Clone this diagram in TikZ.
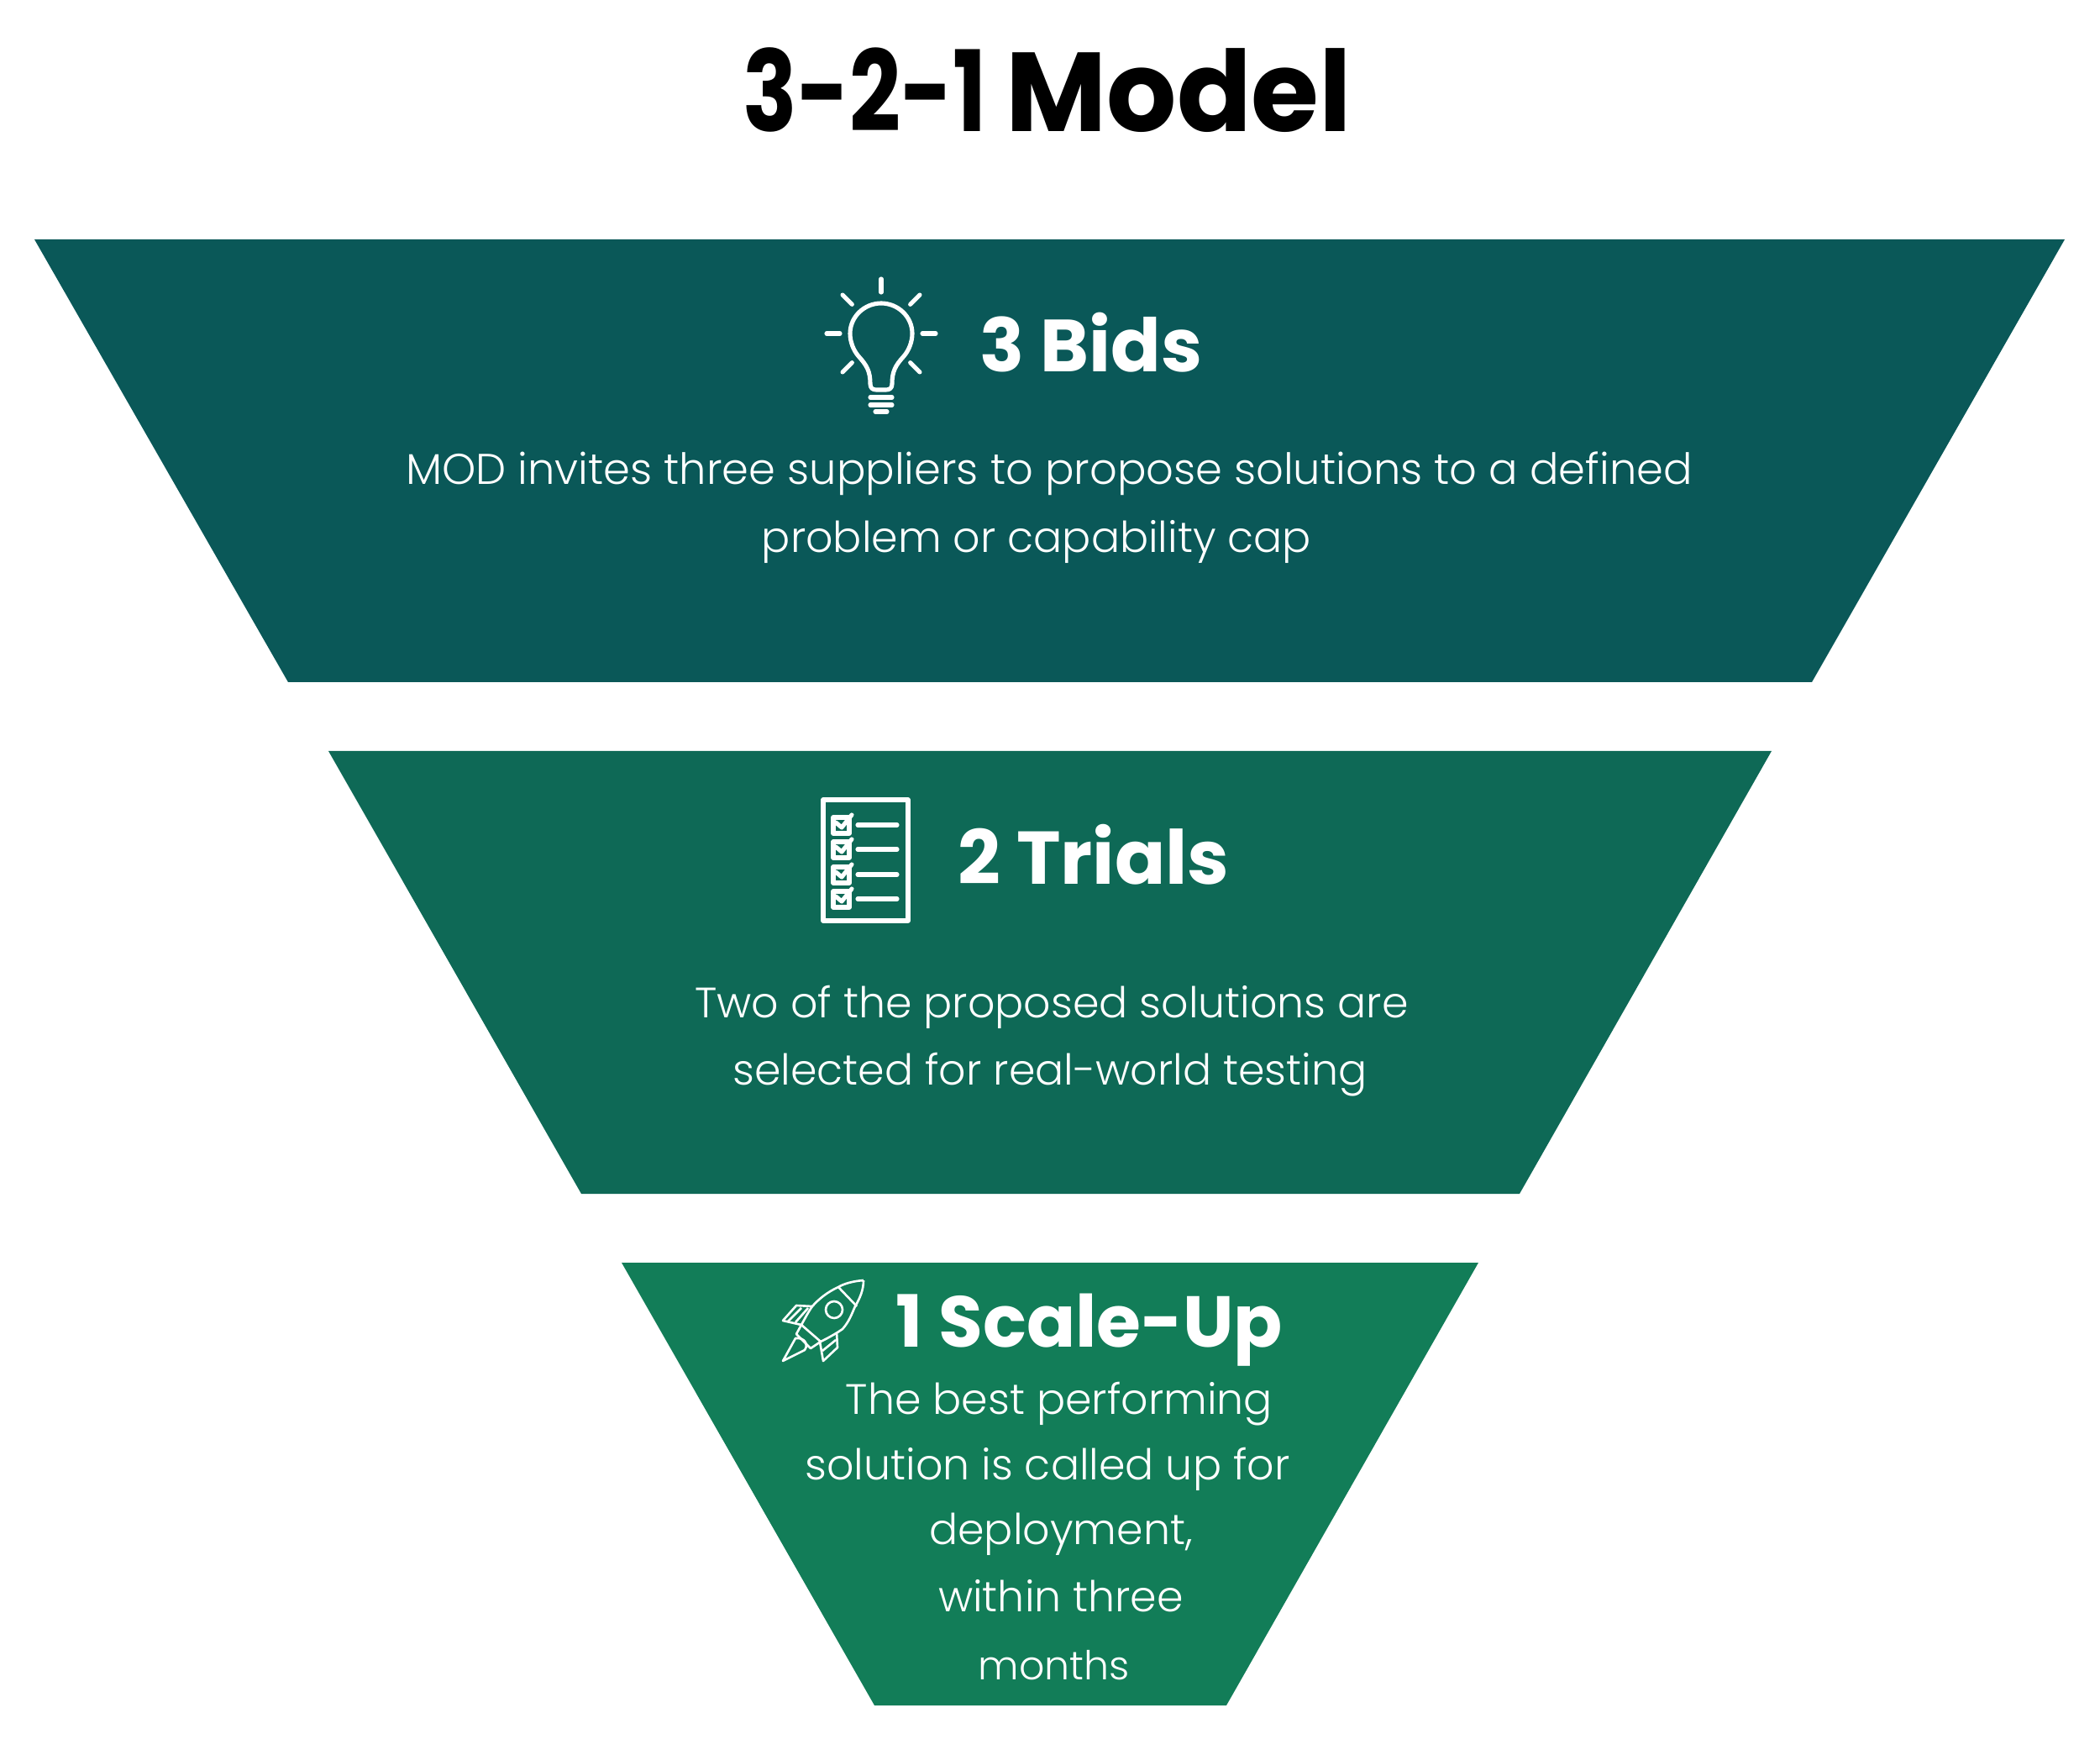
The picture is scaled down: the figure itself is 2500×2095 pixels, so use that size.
\documentclass[tikz,border=0pt]{standalone}
\usepackage{fontspec}
\setmainfont{Poppins Light}
\newfontfamily\headfont{Poppins}[UprightFont=* Bold]
\newfontfamily\titlefont{Poppins}[UprightFont=* Bold,FakeStretch=0.98]
\newfontfamily\numberfont{Poppins}[UprightFont=* Bold,FakeStretch=0.80]
\definecolor{bidsgreen}{HTML}{0A5858}
\definecolor{trialsgreen}{HTML}{0E6956}
\definecolor{scalegreen}{HTML}{127D58}
\begin{document}
\begin{tikzpicture}[x=0.01cm,y=-0.01cm,
    bodytext/.style={anchor=base,text=white,inner sep=0pt,font=\fontsize{14.4}{17}\selectfont},
    headtext/.style={anchor=base,text=white,inner sep=0pt,font=\headfont\fontsize{25}{30}\selectfont},
    icon/.style={draw=white,line width=1.45pt,line cap=round,line join=round},
    thinicon/.style={draw=white,line width=0.75pt,line join=round}]
  \useasboundingbox (0,0) rectangle (2500,2095);
  \node[anchor=base,inner sep=0pt,font=\fontsize{38}{44}\selectfont] (title) at (1247,157) {\numberfont 3-2-1 \titlefont Model};

  \fill[bidsgreen] (41,285) -- (2458,285) -- (2157,812) -- (343,812) -- cycle;
  \fill[trialsgreen] (391,894) -- (2109,894) -- (1809,1421) -- (692,1421) -- cycle;
  \fill[scalegreen] (740,1503) -- (1760,1503) -- (1460,2030) -- (1041,2030) -- cycle;

  \node[headtext] (bidshead) at (1299,443) {3 Bids};
  \node[bodytext,font=\fontsize{14.55}{17}\selectfont] (bidsa) at (1249,577) {MOD invites three suppliers to propose solutions to a defined};
  \node[bodytext] (bidsb) at (1234,658) {problem or capability cap};

  \node[headtext,font=\headfont\fontsize{25.3}{30}\selectfont] (trialshead) at (1302,1052) {2 Trials};
  \node[bodytext] (trialsa) at (1252,1211) {Two of the proposed solutions are};
  \node[bodytext] (trialsb) at (1250,1291) {selected for real-world testing};

  \node[headtext,font=\headfont\fontsize{24.4}{30}\selectfont] (scalehead) at (1297,1603) {1 Scale-Up};
  \node[bodytext] (scalea) at (1261,1683) {The best performing};
  \node[bodytext] (scaleb) at (1247,1761) {solution is called up for};
  \node[bodytext] (scalec) at (1263,1838) {deployment,};
  \node[bodytext] (scaled) at (1263,1918) {within three};
  \node[bodytext,font=\fontsize{13.5}{17}\selectfont] (scalee) at (1255,1999) {months};

  \begin{scope}[shift={(1049,397)}]
    \foreach \a in {0,45,135,180,225,270,315} {
      \draw[icon] (\a:49) -- (\a:65);
    }
    \draw[icon] (-13,60) .. controls (-13,45) and (-17,38) .. (-27,27)
      .. controls (-33,20) and (-37,10) .. (-37,0)
      .. controls (-37,-20) and (-20,-36) .. (0,-36)
      .. controls (20,-36) and (37,-20) .. (37,0)
      .. controls (37,10) and (33,20) .. (27,27)
      .. controls (17,38) and (13,45) .. (13,60)
      .. controls (13,65) and (10,67) .. (6,67) -- (-6,67)
      .. controls (-10,67) and (-13,65) .. (-13,60);
    \draw[icon] (-13,76) -- (13,76);
    \draw[icon] (-13,85) -- (13,85);
    \draw[icon] (-7,93) -- (7,93);
  \end{scope}

  \draw[icon,line cap=butt] (980,952) rectangle (1081,1096);
  \foreach \y in {982,1011,1041,1070} {
    \draw[icon] (992,\y-9) rectangle (1011,\y+10);
    \draw[icon] (995,\y-3) -- (1002,\y+3) -- (1014,\y-12);
    \draw[icon] (1021,\y) -- (1068,\y);
  }

  \draw[thinicon] (1028,1524) .. controls (1015,1525) and (1005,1528) .. (998,1532)
    .. controls (985,1538) and (975,1546) .. (967,1555)
    .. controls (962,1562) and (958,1570) .. (954,1577)
    -- (977,1597)
    .. controls (987,1592) and (996,1587) .. (1003,1582)
    .. controls (1011,1573) and (1014,1564) .. (1018,1555)
    .. controls (1024,1545) and (1028,1535) .. (1028,1524);
  \draw[thinicon] (998,1532) -- (1020,1555);
  \draw[thinicon] (993,1559) circle (10);
  \draw[thinicon] (967,1555) -- (948,1554) -- (932,1572) -- (954,1577);
  \draw[thinicon] (954,1557) -- (938,1573);
  \draw[thinicon] (962,1557) -- (947,1574);
  \draw[thinicon] (996,1586) -- (997,1604) -- (980,1620) -- (976,1597);
  \draw[thinicon] (995,1595) -- (979,1608);
  \draw[thinicon] (954,1577) -- (948,1588) -- (965,1605) -- (977,1597);
  \draw[thinicon] (947,1593) -- (932,1620) -- (958,1607)
    .. controls (962,1603) and (960,1594) .. (951,1593) -- cycle;
\end{tikzpicture}
\end{document}
